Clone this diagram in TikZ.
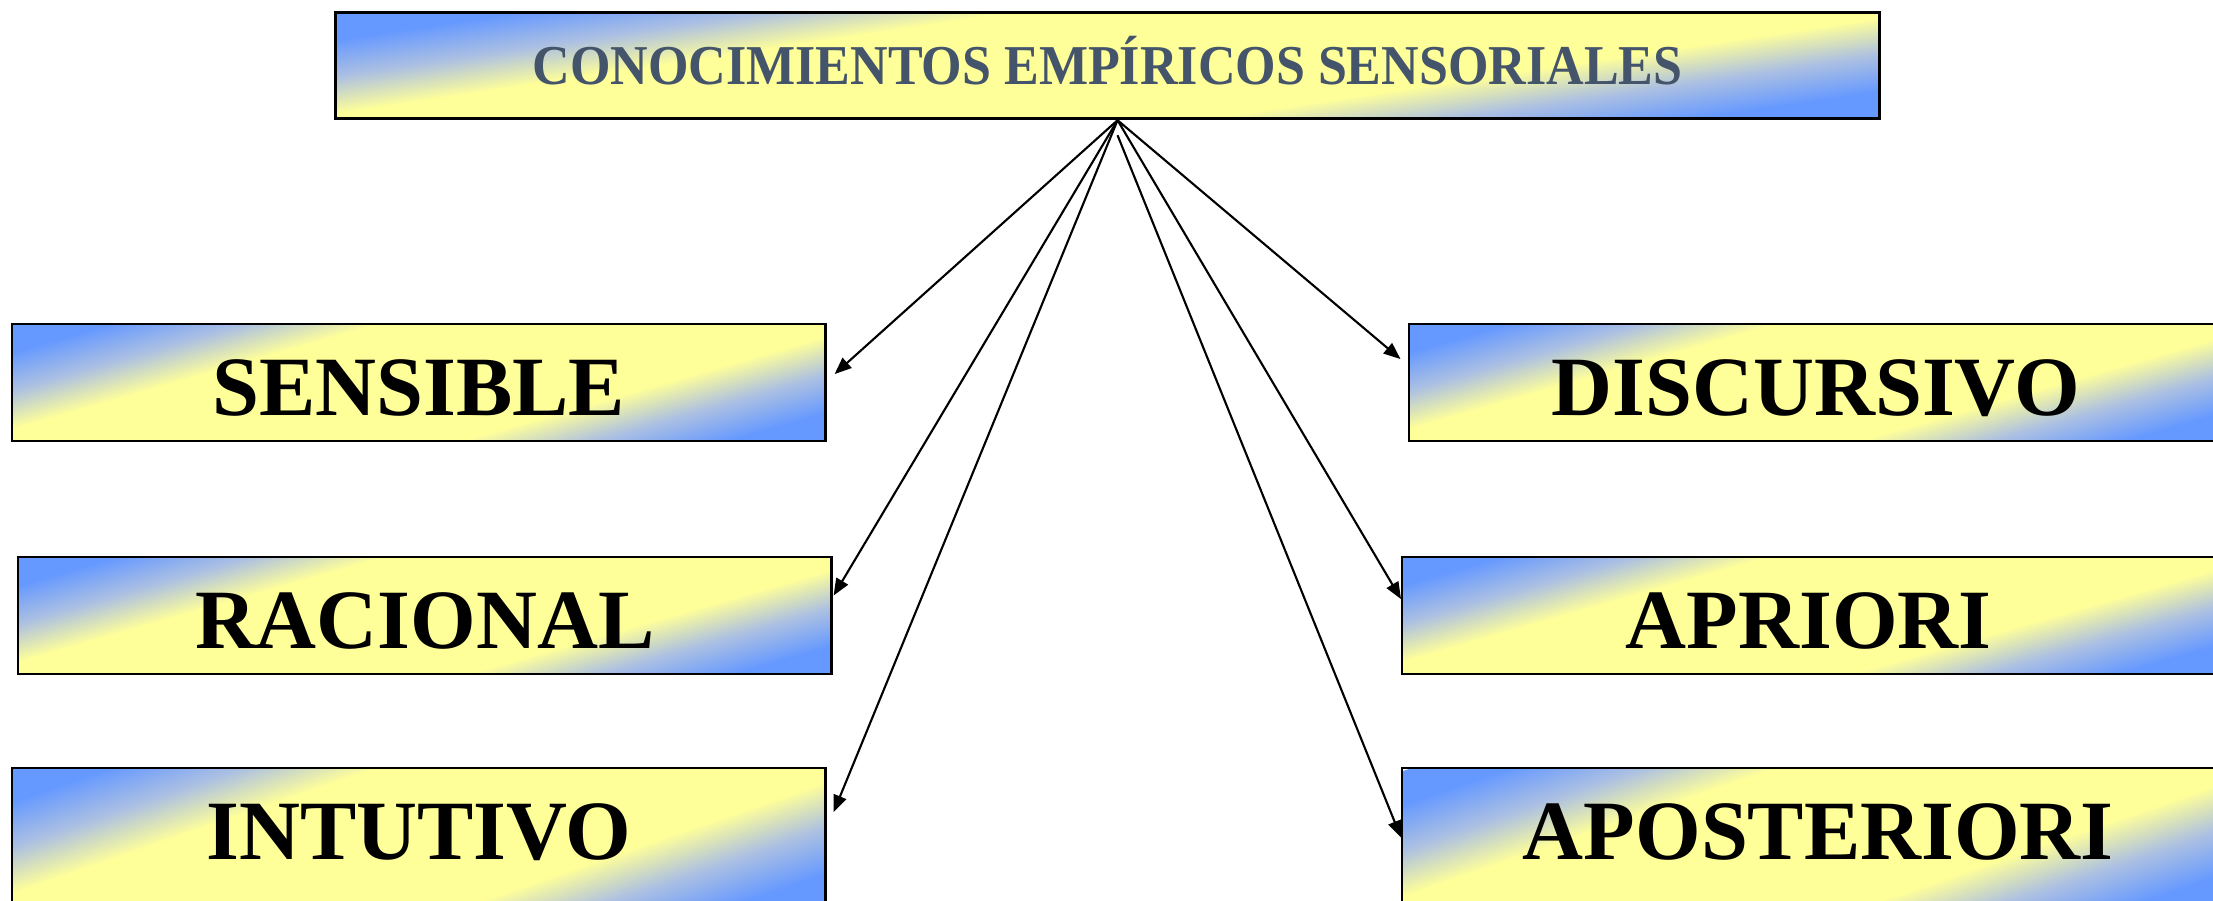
\documentclass[tikz,border=0pt]{standalone}
\usepackage{graphicx}
\usepackage{fontspec}
\setmainfont{Liberation Serif}
\usetikzlibrary{arrows.meta}

\definecolor{boxblue}{RGB}{102,153,255}
\definecolor{boxyellow}{RGB}{255,255,153}
\definecolor{boxmid}{RGB}{172,192,226}
\definecolor{titlegray}{RGB}{68,84,106}
\pgfdeclareverticalshading{blueyellow}{100bp}{color(0bp)=(boxblue); color(29bp)=(boxblue); color(34.5bp)=(boxmid); color(40bp)=(boxyellow); color(60bp)=(boxyellow); color(65.5bp)=(boxmid); color(71bp)=(boxblue); color(100bp)=(boxblue)}

% band fill inside a box: #1 = angle, #2 = half extent across the bands
\newcommand\bandfill[2]{\shade[shading=blueyellow,
  transform canvas={rotate around={#1:(path picture bounding box.center)}}]
  ([xshift=-9cm,yshift=-#2]path picture bounding box.center) rectangle
  ([xshift=9cm,yshift=#2]path picture bounding box.center);}

\tikzset{
  kbox/.style={draw, line width=0.6pt, path picture={\bandfill{16}{1.68cm}}, anchor=north west,
    inner sep=0pt, minimum width=8.13cm, text height=0.91cm, text depth=0.26cm,
    font=\fontsize{24}{28}\selectfont\bfseries},
  tall/.style={text depth=0.48cm, path picture={\bandfill{19}{1.98cm}}},
  link/.style={line width=0.6pt, -{Triangle[length=4.8pt,width=3.8pt]}}
}

\begin{document}
\begin{tikzpicture}[x=0.01cm, y=-0.01cm]
\useasboundingbox (0,0) rectangle (2213,901);
\clip (0,0) rectangle (2213,901);
\node [kbox, line width=0.9pt, path picture={\bandfill{8.5}{1.66cm}}, minimum width=15.43cm, text height=0.72cm,
  text depth=0.34cm, text=titlegray, font=\fontsize{16}{19}\selectfont\bfseries] (Top) at (334,11)
  {\scalebox{0.925}[1]{CONOCIMIENTOS EMPÍRICOS SENSORIALES}};
\node [kbox] (Sens) at (11,323) {SENSIBLE};
\node [kbox] (Rac) at (17,556) {RACIONAL};
\node [kbox, tall] (Int) at (11,767) {INTUTIVO};
\node [kbox] (Disc) at (1408,323) {DISCURSIVO};
\node [kbox] (Apri) at (1401,556) {APRIORI};
\node [kbox, tall, minimum width=8.32cm] (Apos) at (1401,767) {APOSTERIORI};

% arrows fan out from the title
\draw [link] ([xshift=1mm]Top.south) -- ([xshift=0.8mm,yshift=0.85mm]Sens.east);
\draw [link] ([xshift=1mm]Top.south) -- ([xshift=0.1mm,yshift=2mm]Rac.east);
\draw [link] ([xshift=1mm]Top.south) -- ([xshift=0.7mm,yshift=2.55mm]Int.east);
\draw [link] ([xshift=1mm]Top.south) -- ([xshift=-0.75mm,yshift=2.35mm]Disc.west);
\draw [link] ([xshift=1mm]Top.south) -- ([yshift=1.65mm]Apri.west);
\draw [link] ([xshift=1mm,yshift=-1.5mm]Top.south) -- (Apos.west);

\end{tikzpicture}
\end{document}
